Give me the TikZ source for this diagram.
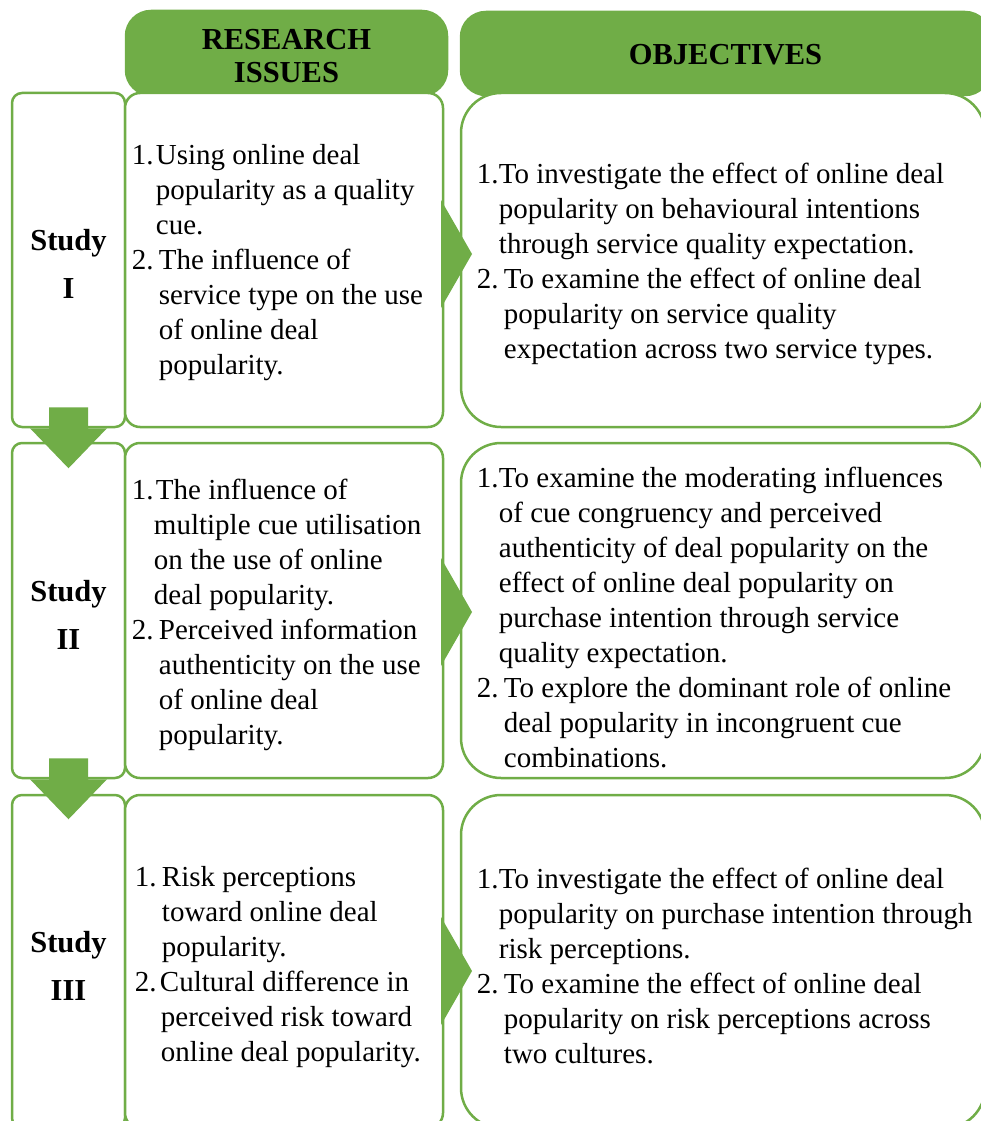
\documentclass[tikz,border=0pt]{standalone}
\usepackage{fontspec}
\setmainfont{Liberation Serif}
\usepackage{tikz}
\usetikzlibrary{positioning, calc}
\definecolor{studygreen}{RGB}{112,173,71}
\newcommand{\bodyfont}{\fontsize{29}{35}\selectfont}
\newcommand{\headfont}{\fontsize{30.5}{33}\selectfont\bfseries}
\newcommand{\studyfont}{\fontsize{30.5}{48}\selectfont\bfseries}
\newcommand{\numlead}[2]{\makebox[#1pt][l]{#2}}
\newcommand{\numcont}[1]{\hspace*{#1pt}}
\tikzset{
  headbox/.style={fill=studygreen, draw=studygreen, line width=2.5pt,
                  rounded corners=25pt, inner sep=0pt},
  headtext/.style={font=\headfont, align=center, inner sep=0pt},
  studybox/.style={draw=studygreen, line width=2.5pt, fill=white,
                   rounded corners=10pt, minimum width=113pt, inner sep=0pt},
  issuebox/.style={draw=studygreen, line width=2.5pt, fill=white,
                   rounded corners=15pt, minimum width=318pt, inner sep=0pt},
  objbox/.style={draw=studygreen, line width=2.5pt, fill=white,
                 rounded corners=40pt, minimum width=524pt, inner sep=0pt},
  bodytext/.style={font=\bodyfont, align=left, inner sep=0pt},
  studytext/.style={font=\studyfont, align=center, inner sep=0pt},
  downarrow/.style={fill=studygreen},
  chevron/.style={fill=studygreen},
}

\begin{document}
\begin{tikzpicture}[x=1pt, y=-1pt]
  \useasboundingbox (0,0) rectangle (981,1121);

  % column heads
  \node[headbox, minimum width=321pt, minimum height=84pt] (issuehead) at (286.5,53) {};
  \node[headbox, minimum width=529pt, minimum height=83pt] (objhead) at (725.5,53.5) {};
  \node[headtext, yshift=-3pt] (issueheadtxt) at (issuehead.center) {RESEARCH\\ISSUES};
  \node[headtext, yshift=-1pt] (objheadtxt) at (objhead.center) {OBJECTIVES};

  % three rows of boxes
  \node[studybox, minimum height=334pt] (study1) at (68.5,260) {};
  \node[studybox, minimum height=335pt] (study2) at (68.5,610.5) {};
  \node[studybox, minimum height=333pt] (study3) at (68.5,961.5) {};
  \node[issuebox, minimum height=334pt] (issue1) at (284,260) {};
  \node[issuebox, minimum height=335pt] (issue2) at (284,610.5) {};
  \node[issuebox, minimum height=333pt] (issue3) at (284,961.5) {};
  \node[objbox, minimum height=334pt] (obj1) at (723,260) {};
  \node[objbox, minimum height=335pt] (obj2) at (723,610.5) {};
  \node[objbox, minimum height=333pt] (obj3) at (723,961.5) {};

  % study labels
  \node[studytext, yshift=-4pt] (study1lbl) at (study1.center) {Study\\I};
  \node[studytext, yshift=-4pt] (study2lbl) at (study2.center) {Study\\II};
  \node[studytext, yshift=-4pt] (study3lbl) at (study3.center) {Study\\III};

  % research issues
  \node[bodytext, right=8pt of issue1.west, yshift=-3pt] (issue1txt) {%
    \numlead{24}{1.}Using online deal\\
    \numcont{24}popularity as a quality\\
    \numcont{24}cue.\\
    \numlead{27}{2.}The influence of\\
    \numcont{27}service type on the use\\
    \numcont{27}of online deal\\
    \numcont{27}popularity.};
  \node[bodytext, right=8pt of issue2.west, yshift=-4pt] (issue2txt) {%
    \numlead{24}{1.}The influence of\\
    \numcont{22}multiple cue utilisation\\
    \numcont{22}on the use of online\\
    \numcont{22}deal popularity.\\
    \numlead{27}{2.}Perceived information\\
    \numcont{27}authenticity on the use\\
    \numcont{27}of online deal\\
    \numcont{27}popularity.};
  \node[bodytext, right=11pt of issue3.west, yshift=-5.5pt] (issue3txt) {%
    \numlead{27}{1.}Risk perceptions\\
    \numcont{27}toward online deal\\
    \numcont{27}popularity.\\
    \numlead{25}{2.}Cultural difference in\\
    \numcont{26}perceived risk toward\\
    \numcont{26}online deal popularity.};

  % objectives
  \node[bodytext, right=17pt of obj1.west, yshift=-3.5pt] (obj1txt) {%
    \numlead{22}{1.}To investigate the effect of online deal\\
    \numcont{22}popularity on behavioural intentions\\
    \numcont{22}through service quality expectation.\\
    \numlead{27}{2.}To examine the effect of online deal\\
    \numcont{27}popularity on service quality\\
    \numcont{27}expectation across two service types.};
  \node[bodytext, right=17pt of obj2.west, yshift=-6.5pt] (obj2txt) {%
    \numlead{22}{1.}To examine the moderating influences\\
    \numcont{22}of cue congruency and perceived\\
    \numcont{22}authenticity of deal popularity on the\\
    \numcont{22}effect of online deal popularity on\\
    \numcont{22}purchase intention through service\\
    \numcont{22}quality expectation.\\
    \numlead{27}{2.}To explore the dominant role of online\\
    \numcont{27}deal popularity in incongruent cue\\
    \numcont{27}combinations.};
  \node[bodytext, right=17pt of obj3.west, yshift=-4.5pt] (obj3txt) {%
    \numlead{22}{1.}To investigate the effect of online deal\\
    \numcont{22}popularity on purchase intention through\\
    \numcont{22}risk perceptions.\\
    \numlead{27}{2.}To examine the effect of online deal\\
    \numcont{27}popularity on risk perceptions across\\
    \numcont{27}two cultures.};

  % arrows between studies and towards objectives
  \foreach \s in {study1, study2}
    \fill[downarrow] ($(\s.south)+(-19.5,-21)$) -- ++(39,0) -- ++(0,21) -- ++(19,0)
      -- ($(\s.south)+(0,40)$) -- ($(\s.south)+(-38.5,0)$) -- ++(19,0) -- cycle;
  \foreach \cy in {254, 612, 971}
    \fill[chevron] (441,{\cy-54}) -- (472,\cy) -- (441,{\cy+54}) -- cycle;
\end{tikzpicture}
\end{document}
